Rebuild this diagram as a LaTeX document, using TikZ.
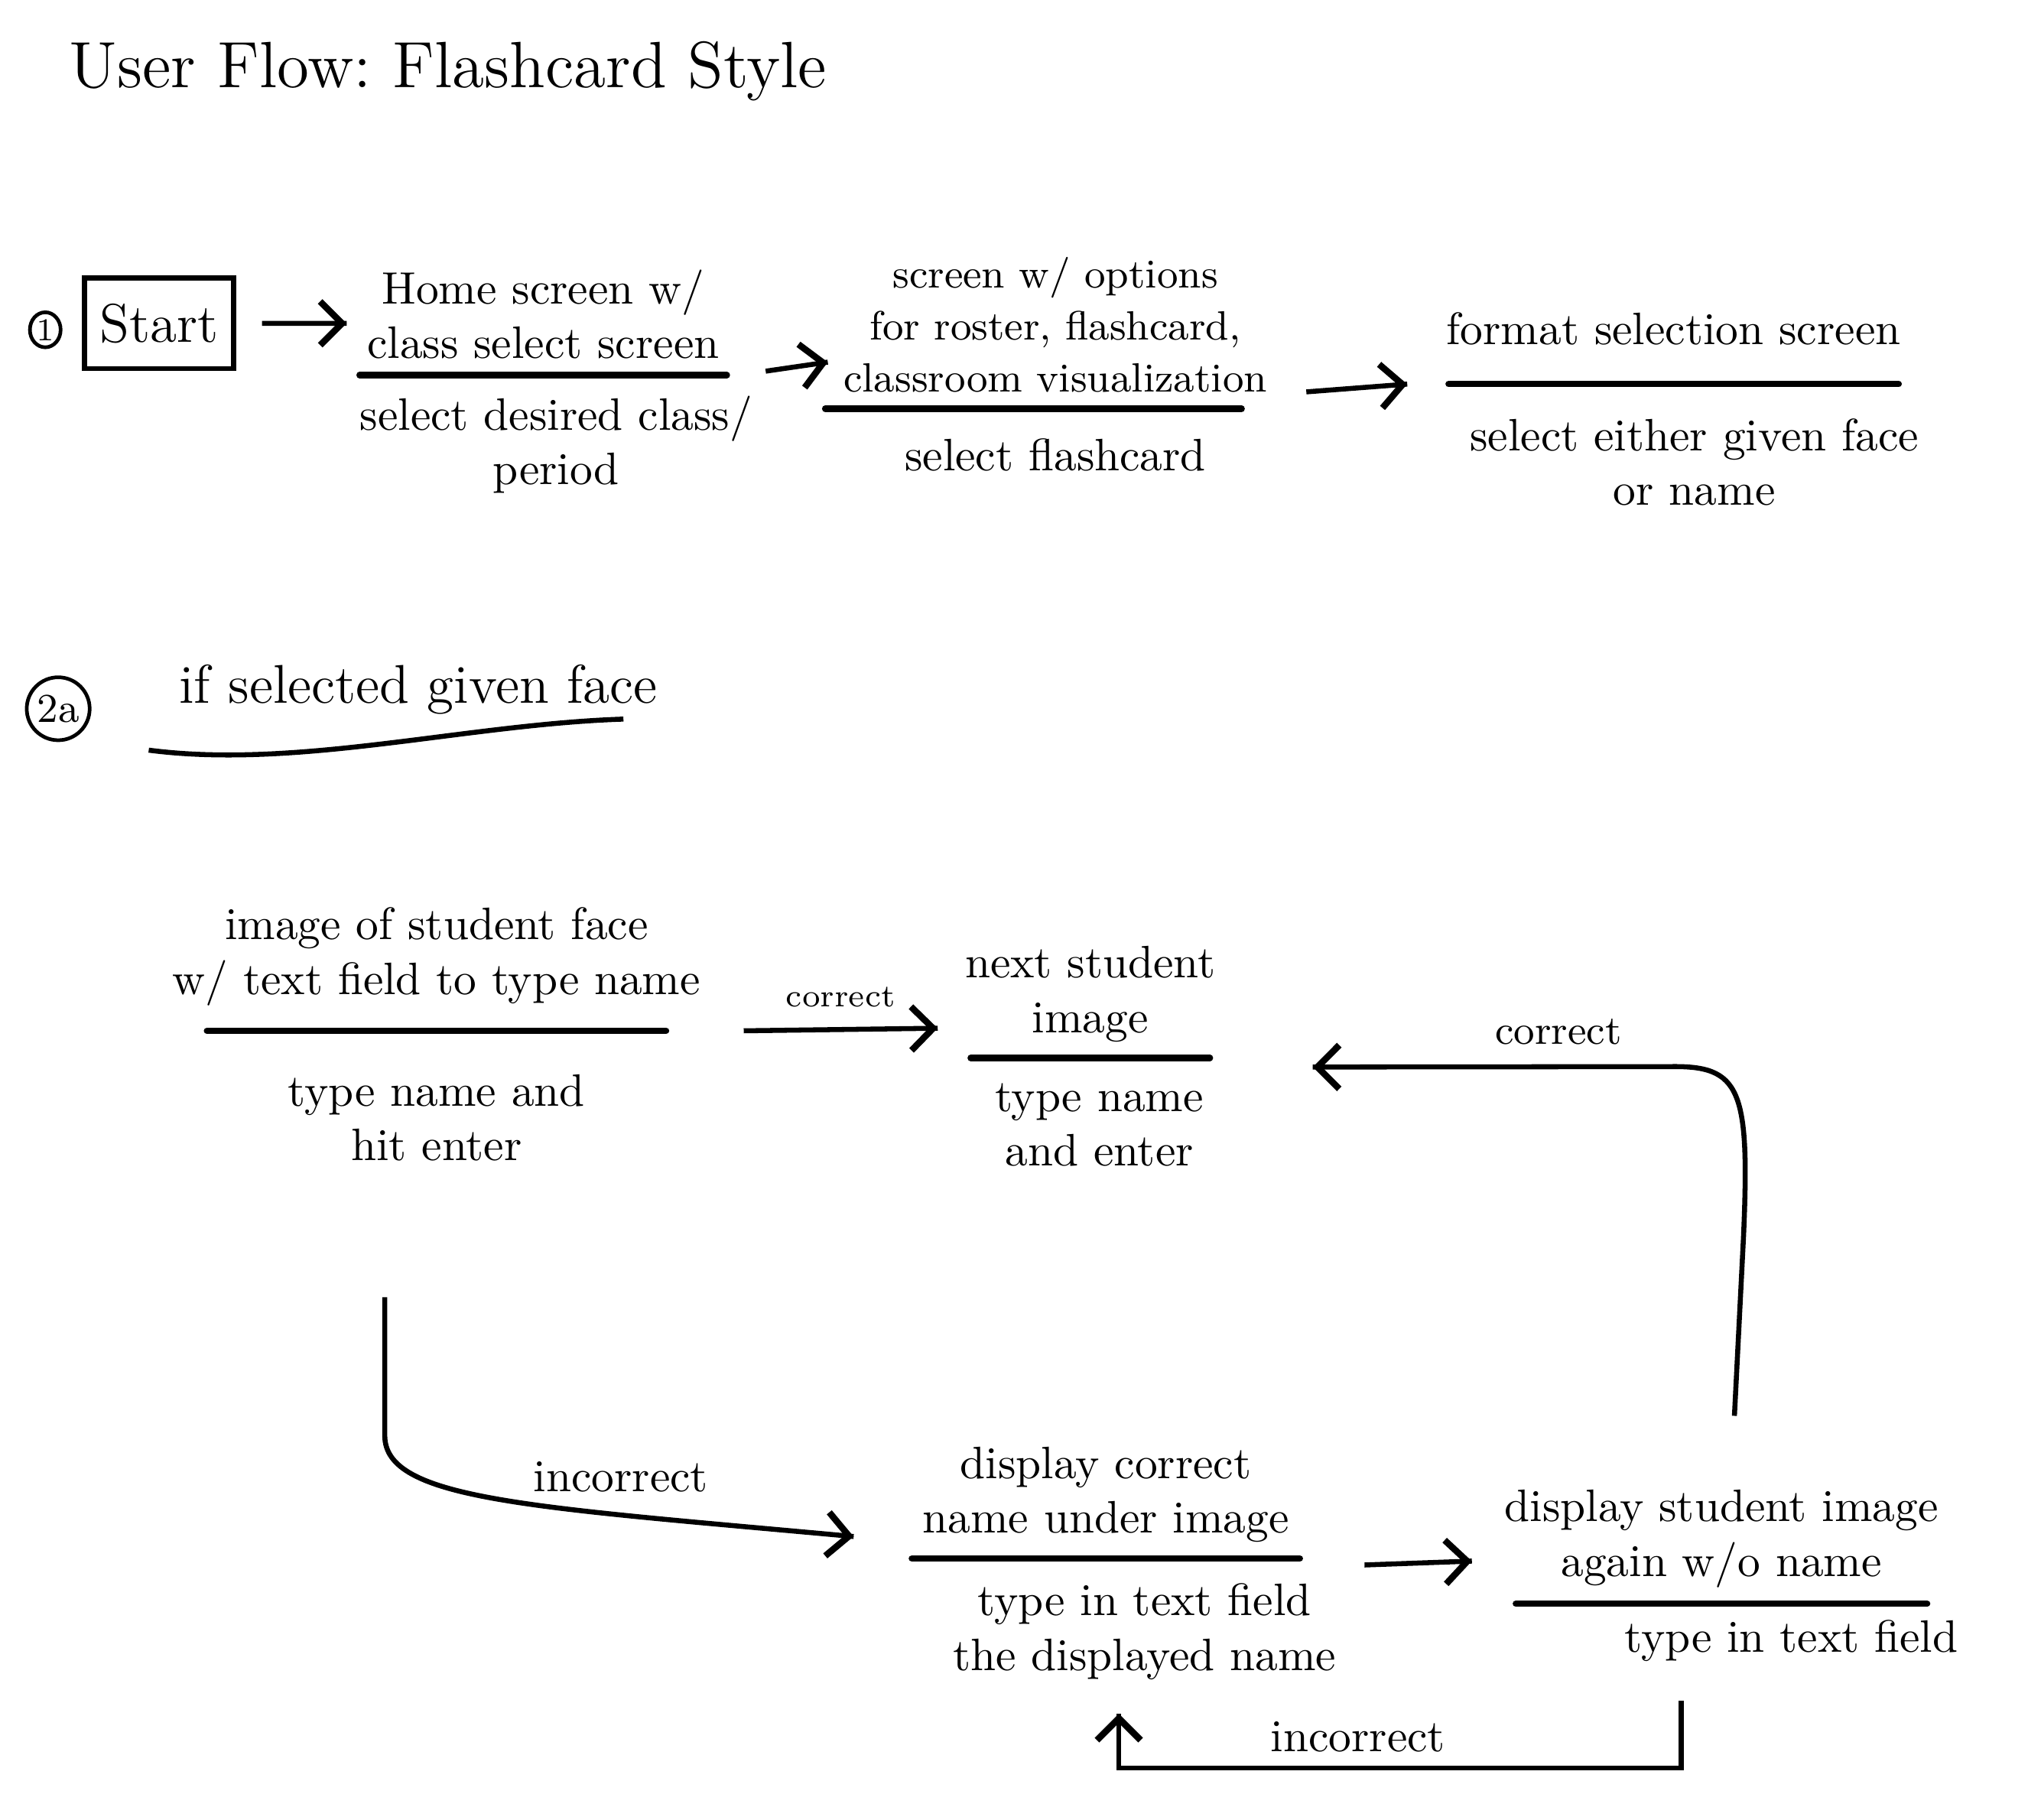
\documentclass[tikz,border=0pt]{standalone}
\usepackage[]{tikz}
\usetikzlibrary{arrows.meta}
\usetikzlibrary{decorations.markings}
\usetikzlibrary{positioning}
\usetikzlibrary{shapes.geometric}
\tikzset{->/.style = {decoration={markings,mark=at position 1 with {\arrow[scale=1.3]{Straight Barb}}},postaction={decorate}}}
\tikzset{scr/.style = {anchor=south, align=center, inner xsep=0, inner ysep=3pt}}
\tikzset{act/.style = {align=center, inner sep=2pt}}
\tikzset{rule/.style = {line width=1.4pt, line cap=round}}

\begin{document}
\begin{tikzpicture}[line width=1.1pt]
        \useasboundingbox (0,0) rectangle (15.68,-14.07);
        \node[anchor=west] (title) at (0.40,-0.55) {\Large User Flow:\ Flashcard Style};
        \node[draw, ellipse, inner sep=0.4pt, line width=0.8pt] (one) at (0.35,-2.55) {\scriptsize 1};
        \node[draw, minimum width=1.1cm, minimum height=0.7cm] (start) at (1.23,-2.50) {\large Start};
        \node[scr] (home) at (4.20,-2.90) {Home screen w/\\class select screen};
        \draw[rule] ([xshift=-1.42cm]home.south) -- ([xshift=1.42cm]home.south);
        \node[act, below=2pt of home, xshift=1mm] (homeact) {select desired class/\\period};
        \node[scr, font=\fontsize{9}{11.5}\selectfont] (opts) at (8.16,-3.16) {screen w/ options\\for roster, flashcard,\\classroom visualization};
        \draw[rule] ([xshift=-1.78cm]opts.south) -- ([xshift=1.44cm]opts.south);
        \node[act, below=4pt of opts] (optsact) {select flashcard};
        \node[scr, inner ysep=8pt] (fmt) at (12.94,-2.97) {format selection screen};
        \draw[rule] ([xshift=-1.74cm]fmt.south) -- ([xshift=1.74cm]fmt.south);
        \node[act, below=5pt of fmt, xshift=1.6mm] (fmtact) {select either given face\\or name};
        \draw [->] ([xshift=2mm]start.east) -- ([xshift=-1.52cm,yshift=4mm]home.south);
        \draw [->] ([xshift=1.72cm,yshift=0.3mm]home.south) -- ([xshift=-1.76cm,yshift=3.6mm]opts.south);
        \draw [->] ([xshift=1.94cm,yshift=1.3mm]opts.south) -- ([xshift=-2.06cm]fmt.south);

        \node[draw, circle, inner sep=1pt, line width=0.8pt] (twoa) at (0.45,-5.48) {\small 2a};
        \node[anchor=west] (iftxt) at (1.25,-5.33) {\large if selected given face};
        \draw (1.15,-5.80) .. controls (2.3,-5.95) and (3.6,-5.60) .. (4.82,-5.56);

        \node[scr, inner ysep=5pt] (img) at (3.375,-7.97) {image of student face\\w/ text field to type name};
        \draw[rule] ([xshift=-1.775cm]img.south) -- ([xshift=1.775cm]img.south);
        \node[act, below=7pt of img] (imgact) {type name and\\hit enter};
        \node[scr] (next) at (8.43,-8.18) {next student\\image};
        \draw[rule] ([xshift=-0.925cm]next.south) -- ([xshift=0.925cm]next.south);
        \node[act, below=3pt of next, xshift=0.7mm] (nextact) {type name\\and enter};
        \node[scr] (disp) at (8.55,-12.05) {display correct\\name under image};
        \draw[rule] ([xshift=-1.5cm]disp.south) -- ([xshift=1.5cm]disp.south);
        \node[act, below=3pt of disp, xshift=3mm] (dispact) {type in text field\\the displayed name};
        \node[scr] (again) at (13.31,-12.40) {display student image\\again w/o name};
        \draw[rule] ([xshift=-1.59cm]again.south) -- ([xshift=1.59cm]again.south);
        \node[act, below=1pt of again, xshift=5.4mm] (againact) {type in text field};

        \draw [->] ([xshift=2.375cm]img.south) -- ([xshift=-1.18cm,yshift=2.3mm]next.south) node [midway, above=1pt] (c1) {\scriptsize correct};
        \draw [->] ([xshift=-4mm,yshift=-2.06cm]img.south) -- ++(0,-1.07) .. controls +(0,-0.5) and +(-2.5,0.23) .. ([xshift=-1.95cm,yshift=1.7mm]disp.south);
        \node[] (inc1) at (4.80,-11.42) {incorrect};
        \draw [->] ([xshift=2cm,yshift=-0.5mm]disp.south) -- ([xshift=-1.93cm,yshift=3.3mm]again.south);
        \draw [->] ([xshift=1mm,yshift=4.5mm]again.north) -- ++(0.07,1.38) .. controls +(0.05,1.15) and +(0.55,0.01) .. ++(-0.57,1.32) -- ([xshift=1.72cm,yshift=-0.7mm]next.south);
        \node[] (c2) at (12.05,-7.98) {\small correct};
        \draw [->] ([xshift=-3.1mm,yshift=-7.5mm]again.south) -- ++(0,-0.52) -| ([xshift=1mm,yshift=-12mm]disp.south);
        \node[] (inc2) at (10.50,-13.43) {incorrect};
    \end{tikzpicture}
\end{document}
